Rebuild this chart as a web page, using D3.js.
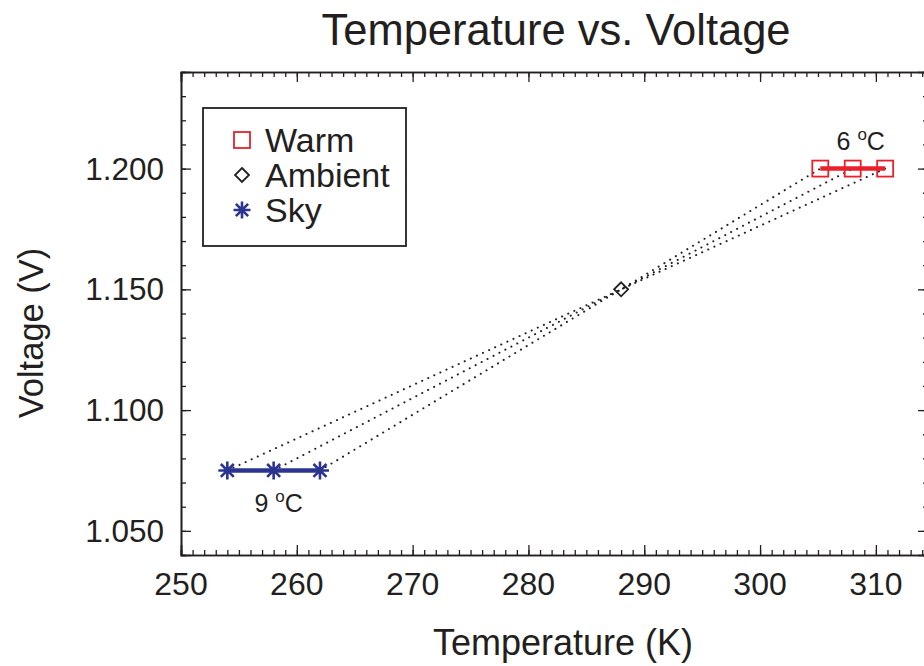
<!DOCTYPE html>
<html lang="en">
<head>
    <meta charset="UTF-8">
    <script src="https://d3js.org/d3.v7.min.js"></script>
    <title>Temperature vs. Voltage</title>
    <style>
        body { margin: 0; background: #fff; }
        text { font-family: "Liberation Sans", Arial, Helvetica, sans-serif; fill: #231f20; }
    </style>
</head>
<body>
<script>
    // Data
    const warmTemp = [305.2, 308.0, 310.8];
    const warmVolt = [1.200, 1.200, 1.200];
    const ambientTemp = [288];
    const ambientVolt = [1.150];
    const skyTemp = [254, 258, 262];
    const skyVolt = [1.075, 1.075, 1.075];
    const xTicks = [250, 260, 270, 280, 290, 300, 310];
    const yTicks = [1.050, 1.100, 1.150, 1.200];
    const legendLabels = ["Warm", "Ambient", "Sky"];

    const RED = "#e8212b";
    const BLUE = "#2b3591";
    const INK = "#231f20";

    const width = 924, height = 666;
    const margin = {top: 72, right: -4, bottom: 111, left: 181};

    const svg = d3.select("body").append("svg")
        .attr("width", width)
        .attr("height", height);

    const x = d3.scaleLinear()
        .domain([250, 314.5])
        .range([margin.left, width - margin.right]);
    const y = d3.scaleLinear()
        .domain([1.04, 1.24])
        .range([height - margin.bottom, margin.top]);

    const x0 = x.range()[0], x1 = x.range()[1];
    const y0 = y.range()[0], y1 = y.range()[1];

    // Frame axes, ticks pointing inward
    const xMinor = d3.range(250, 315, 1);
    const yMinor = d3.range(1.04, 1.2401, 0.01);

    svg.append("g").attr("transform", "translate(0," + y0 + ")")
        .call(d3.axisTop(x).tickValues(xMinor).tickSize(5).tickFormat(""));
    svg.append("g").attr("transform", "translate(0," + y0 + ")")
        .call(d3.axisTop(x).tickValues(xTicks).tickSize(10).tickFormat(""));
    svg.append("g").attr("transform", "translate(0," + y1 + ")")
        .call(d3.axisBottom(x).tickValues(xMinor).tickSize(5).tickFormat(""));
    svg.append("g").attr("transform", "translate(0," + y1 + ")")
        .call(d3.axisBottom(x).tickValues(xTicks).tickSize(10).tickFormat(""));
    svg.append("g").attr("transform", "translate(" + x0 + ",0)")
        .call(d3.axisRight(y).tickValues(yMinor).tickSize(5).tickFormat(""));
    svg.append("g").attr("transform", "translate(" + x0 + ",0)")
        .call(d3.axisRight(y).tickValues(yTicks).tickSize(10).tickFormat(""));
    svg.append("g").attr("transform", "translate(" + x1 + ",0)")
        .call(d3.axisLeft(y).tickValues(yMinor).tickSize(5).tickFormat(""));
    svg.append("g").attr("transform", "translate(" + x1 + ",0)")
        .call(d3.axisLeft(y).tickValues(yTicks).tickSize(10).tickFormat(""));

    svg.selectAll(".domain").attr("stroke", INK).attr("stroke-width", 1.6);
    svg.selectAll(".tick line").attr("stroke", INK).attr("stroke-width", 1.3);

    // Tick labels
    svg.append("g").selectAll("text")
        .data(xTicks)
        .enter().append("text")
        .attr("x", d => x(d))
        .attr("y", y0 + 40)
        .attr("text-anchor", "middle")
        .attr("font-size", 32)
        .text(d => d);
    svg.append("g").selectAll("text")
        .data(yTicks)
        .enter().append("text")
        .attr("x", x0 - 17)
        .attr("y", d => y(d) + 11)
        .attr("text-anchor", "end")
        .attr("font-size", 31.5)
        .text(d => d3.format(".3f")(d));

    // Titles
    svg.append("text")
        .attr("x", 556).attr("y", 45)
        .attr("text-anchor", "middle")
        .attr("font-size", 43.5)
        .text("Temperature vs. Voltage");
    svg.append("text")
        .attr("x", 563).attr("y", 655)
        .attr("text-anchor", "middle")
        .attr("font-size", 36)
        .text("Temperature (K)");
    svg.append("text")
        .attr("transform", "translate(43,333) rotate(-90)")
        .attr("text-anchor", "middle")
        .attr("font-size", 34.5)
        .text("Voltage (V)");

    // Dotted connectors: each sky point -> ambient -> matching warm point
    const dotted = d3.line().x(d => x(d[0])).y(d => y(d[1]));
    skyTemp.forEach((t, i) => {
        const j = warmTemp.length - 1 - i;
        svg.append("path")
            .attr("d", dotted([[t, skyVolt[i]], [ambientTemp[0], ambientVolt[0]], [warmTemp[j], warmVolt[j]]]))
            .attr("fill", "none")
            .attr("stroke", INK)
            .attr("stroke-width", 2)
            .attr("stroke-linecap", "round")
            .attr("stroke-dasharray", "0.1 6.6");
    });

    // Series lines
    const line = d3.line().x(d => x(d[0])).y(d => y(d[1]));
    svg.append("path")
        .attr("d", line(warmTemp.map((t, i) => [t, warmVolt[i]])))
        .attr("stroke", RED).attr("stroke-width", 4.5).attr("fill", "none");
    svg.append("path")
        .attr("d", line(skyTemp.map((t, i) => [t, skyVolt[i]])))
        .attr("stroke", BLUE).attr("stroke-width", 4.5).attr("fill", "none");

    // Markers
    const squareAt = (g, cx, cy, s) => g.append("rect")
        .attr("x", cx - s / 2).attr("y", cy - s / 2)
        .attr("width", s).attr("height", s)
        .attr("fill", "none").attr("stroke", RED).attr("stroke-width", 1.8);
    const diamondAt = (g, cx, cy, s) => g.append("path")
        .attr("d", "M" + cx + "," + (cy - s) + "L" + (cx + s) + "," + cy + "L" + cx + "," + (cy + s) + "L" + (cx - s) + "," + cy + "Z")
        .attr("fill", "none").attr("stroke", INK).attr("stroke-width", 1.8);
    const starAt = (g, cx, cy, s) => {
        const p = "M" + cx + "," + (cy - s) + "V" + (cy + s) +
            "M" + (cx - s) + "," + cy + "H" + (cx + s) +
            "M" + (cx - s * 0.72) + "," + (cy - s * 0.72) + "L" + (cx + s * 0.72) + "," + (cy + s * 0.72) +
            "M" + (cx - s * 0.72) + "," + (cy + s * 0.72) + "L" + (cx + s * 0.72) + "," + (cy - s * 0.72);
        g.append("path").attr("d", p).attr("stroke", BLUE).attr("stroke-width", 2.6).attr("fill", "none");
    };

    const marks = svg.append("g");
    warmTemp.forEach((t, i) => squareAt(marks, x(t), y(warmVolt[i]), 16));
    ambientTemp.forEach((t, i) => diamondAt(marks, x(t), y(ambientVolt[i]), 7));
    skyTemp.forEach((t, i) => starAt(marks, x(t), y(skyVolt[i]), 9));

    // Span annotations
    const degLabel = (cx, by, num) => {
        const tx = svg.append("text").attr("x", cx).attr("y", by)
            .attr("text-anchor", "middle").attr("font-size", 25);
        tx.append("tspan").text(num + " ");
        tx.append("tspan").attr("dy", -10).attr("font-size", 17).text("o");
        tx.append("tspan").attr("dy", 10).text("C");
    };
    degLabel(x(d3.mean(warmTemp)) + 8, y(warmVolt[0]) - 19, 6);
    degLabel(x(d3.mean(skyTemp)) + 5, y(skyVolt[0]) + 42, 9);

    // Legend
    const lg = svg.append("g");
    lg.append("rect")
        .attr("x", 203).attr("y", 108).attr("width", 203).attr("height", 138)
        .attr("fill", "#fff").attr("stroke", INK).attr("stroke-width", 1.8);
    const rowY = [140, 175, 210];
    squareAt(lg, 242, rowY[0], 16);
    diamondAt(lg, 242, rowY[1], 7);
    starAt(lg, 242, rowY[2], 8.5);
    lg.selectAll(".lbl")
        .data(legendLabels)
        .enter().append("text")
        .attr("x", 265)
        .attr("y", (d, i) => rowY[i] + 12)
        .attr("font-size", 34)
        .text(d => d);
</script>
</body>
</html>
